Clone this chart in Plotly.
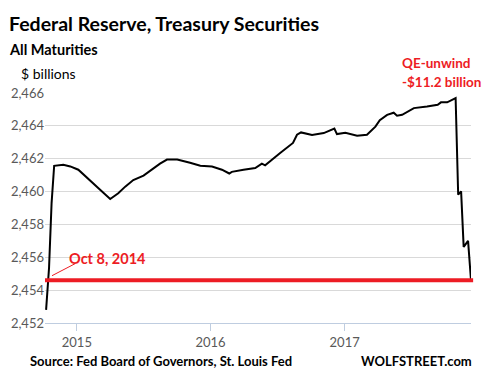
import plotly.graph_objects as go

dates = ["2014-10-09","2014-10-17","2014-10-24","2014-10-31","2014-11-25","2014-12-14",
         "2015-01-05","2015-02-01","2015-03-01","2015-04-02","2015-04-24","2015-05-13",
         "2015-06-04","2015-07-02","2015-07-29","2015-08-16","2015-09-04","2015-10-02",
         "2015-11-06","2015-12-04","2016-01-05","2016-02-01","2016-02-21","2016-02-28",
         "2016-03-31","2016-05-02","2016-05-20","2016-05-29","2016-07-09","2016-08-13",
         "2016-08-24","2016-09-04","2016-10-04","2016-11-05","2016-12-04","2016-12-11",
         "2017-01-03","2017-02-04","2017-03-03","2017-03-26","2017-04-07","2017-04-27",
         "2017-05-15","2017-05-24","2017-06-07","2017-07-09","2017-08-14","2017-09-12",
         "2017-09-21","2017-10-08","2017-10-31","2017-11-07","2017-11-15","2017-11-22",
         "2017-12-04","2017-12-12"]
values = [2452.8,2455.35,2459.3,2461.57,2461.63,2461.53,
          2461.33,2460.8,2460.2,2459.55,2459.9,2460.3,
          2460.7,2460.97,2461.43,2461.7,2461.95,2461.95,
          2461.75,2461.57,2461.53,2461.33,2461.1,2461.2,
          2461.33,2461.43,2461.7,2461.6,2462.35,2462.96,
          2463.46,2463.6,2463.44,2463.56,2463.83,2463.5,
          2463.58,2463.4,2463.46,2463.95,2464.35,2464.67,
          2464.8,2464.62,2464.67,2465.08,2465.18,2465.28,
          2465.43,2465.43,2465.69,2459.81,2460.01,2456.63,
          2457.0,2454.6]
baseline_level = 2454.6
x_ticks = ["2015-01-01", "2016-01-01", "2017-01-01"]
x_tick_labels = ["2015", "2016", "2017"]
y_ticks = [2452, 2454, 2456, 2458, 2460, 2462, 2464, 2466]

FONT = "Lato"
RED = "#ED1C24"

fig = go.Figure()
fig.add_trace(go.Scatter(x=dates, y=values, mode="lines",
                         line=dict(color="black", width=2), hoverinfo="skip"))

fig.add_shape(type="line", xref="paper", yref="y", x0=0, x1=1.005,
              y0=baseline_level, y1=baseline_level,
              line=dict(color=RED, width=4))
fig.add_shape(type="line", xref="paper", yref="paper", x0=0.0164, y0=0.2057,
              x1=0.0705, y1=0.2578, line=dict(color=RED, width=1))

W, H = 491, 376
L, R, T, B = 45, 20, 93, 53

def px(x):
    return (x - L) / (W - L - R)

def py(y):
    return (H - B - y) / (H - T - B)

ann = []
ann.append(dict(text="<b>Federal Reserve, Treasury Securities</b>", x=px(7), y=py(24),
                xanchor="left", yanchor="middle", font=dict(size=19.5, color="black", family=FONT)))
ann.append(dict(text="<b>All Maturities</b>", x=px(7), y=py(49),
                xanchor="left", yanchor="middle", font=dict(size=14.5, color="black", family=FONT)))
ann.append(dict(text="$ billions", x=px(19), y=py(73),
                xanchor="left", yanchor="middle", font=dict(size=14, color="black", family=FONT)))
ann.append(dict(text="<b>QE-unwind</b>", x=px(400), y=py(63),
                xanchor="left", yanchor="middle", align="left",
                font=dict(size=13.5, color=RED, family=FONT)))
ann.append(dict(text="<b>-$11.2 billion</b>", x=px(400), y=py(82),
                xanchor="left", yanchor="middle", align="left",
                font=dict(size=13.5, color=RED, family=FONT)))
ann.append(dict(text="<b>Oct 8, 2014</b>", x=px(67), y=py(258),
                xanchor="left", yanchor="middle", font=dict(size=14.5, color=RED, family=FONT)))
ann.append(dict(text="<b>Source: Fed Board of Governors, St. Louis Fed</b>", x=px(28), y=py(361),
                xanchor="left", yanchor="middle", font=dict(size=13, color="black", family=FONT)))
ann.append(dict(text="<b>WOLFSTREET.com</b>", x=px(474), y=py(361),
                xanchor="right", yanchor="middle", font=dict(size=13, color="black", family=FONT)))
for a in ann:
    a.update(xref="paper", yref="paper", showarrow=False)

fig.update_layout(
    width=W, height=H, margin=dict(l=L, r=R, t=T, b=B, pad=0, autoexpand=False),
    paper_bgcolor="white", plot_bgcolor="white", showlegend=False,
    font=dict(family=FONT, color="#595959", size=13),
    annotations=ann,
    xaxis=dict(range=["2014-10-06", "2017-12-12"], tickvals=x_ticks, ticktext=x_tick_labels,
               showgrid=False, showline=True, linecolor="#BFCDE0", linewidth=1,
               ticks="outside", ticklen=7, tickcolor="#BFCDE0", zeroline=False,
               automargin=False, tickfont=dict(size=13, color="#595959")),
    yaxis=dict(range=[2452, 2466], tickvals=y_ticks, tickformat=",d",
               showgrid=True, gridcolor="#D9D9D9", gridwidth=1, zeroline=False,
               automargin=False, showline=False, ticks="",
               tickfont=dict(size=13, color="#595959")),
)

fig.write_html("out.html", config={"displayModeBar": False},
               post_script="document.body.style.margin='0';")
